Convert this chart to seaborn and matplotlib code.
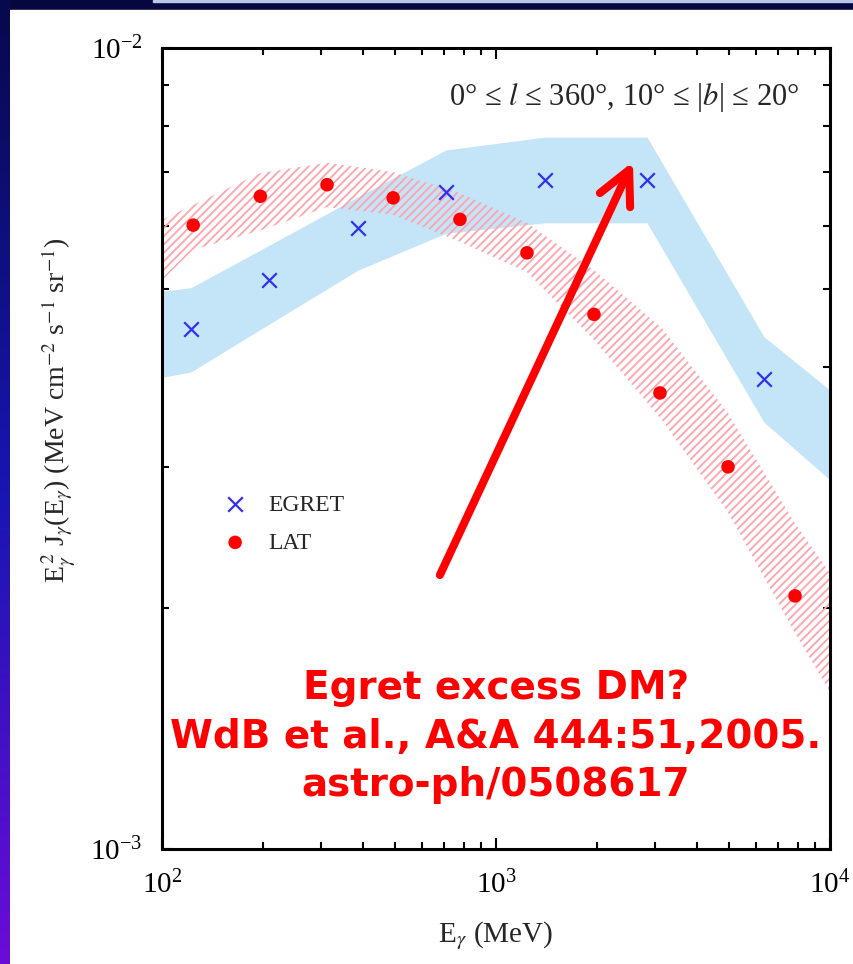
import numpy as np
import seaborn as sns
import matplotlib.pyplot as plt
from matplotlib.patches import Rectangle
from matplotlib.colors import LinearSegmentedColormap
from matplotlib.ticker import NullFormatter

# EGRET points (E in MeV, E^2 J in MeV cm^-2 s^-1 sr^-1)
egret_e = [122, 209, 386, 708, 1402, 2832, 6344]
egret_flux = [4.46e-3, 5.13e-3, 5.96e-3, 6.61e-3, 6.84e-3, 6.84e-3, 3.86e-3]

# LAT points
lat_e = [124, 197, 312, 492, 780, 1238, 1965, 3097, 4951, 7858]
lat_flux = [6.01e-3, 6.53e-3, 6.75e-3, 6.50e-3, 6.11e-3, 5.55e-3, 4.65e-3, 3.71e-3, 3.00e-3, 2.07e-3]

# EGRET systematic band
egret_band_e = [100, 122, 209, 386, 708, 1402, 2832, 6344, 10000]
egret_band_hi = [4.97e-3, 5.02e-3, 5.67e-3, 6.52e-3, 7.46e-3, 7.74e-3, 7.74e-3, 4.36e-3, 3.74e-3]
egret_band_lo = [3.88e-3, 3.94e-3, 4.52e-3, 5.28e-3, 5.87e-3, 6.05e-3, 6.05e-3, 3.41e-3, 2.89e-3]

# LAT band (hatched)
lat_band_e = [100, 124, 197, 312, 492, 780, 1238, 1965, 3141, 4951, 7858, 10000]
lat_band_hi = [6.10e-3, 6.37e-3, 6.98e-3, 7.19e-3, 7.00e-3, 6.59e-3, 6.05e-3, 5.28e-3, 4.47e-3, 3.50e-3, 2.55e-3, 2.21e-3]
lat_band_lo = [5.13e-3, 5.60e-3, 5.92e-3, 6.33e-3, 6.19e-3, 5.73e-3, 5.25e-3, 4.32e-3, 3.43e-3, 2.63e-3, 1.86e-3, 1.57e-3]

sns.set_theme(style="ticks")
plt.rcParams["font.family"] = ["Liberation Serif", "DejaVu Serif"]
plt.rcParams["mathtext.fontset"] = "stix"
plt.rcParams["hatch.linewidth"] = 1.3

fig = plt.figure(figsize=(8.54, 9.64), dpi=100)
fig.patch.set_facecolor("#07073f")

# slide background: white panel, gradient stripe on the left, thin line on top
fig.patches.append(Rectangle((10 / 854, 0), 1 - 10 / 854, 954 / 964,
                             transform=fig.transFigure, color="white", zorder=-2))
fig.patches.append(Rectangle((153 / 854, 1 - 2 / 964), 1, 2 / 964,
                             transform=fig.transFigure, color="#b8c8e8", zorder=-2))
bg = fig.add_axes([0, 0, 10 / 854, 1])
stripe = LinearSegmentedColormap.from_list("stripe", ["#08084c", "#1616b0", "#6a0cd8"])
bg.imshow(np.linspace(0, 1, 256)[:, None], aspect="auto", cmap=stripe)
bg.axis("off")

ax = fig.add_axes([162 / 854, 115 / 964, 668 / 854, 801 / 964])

ax.fill_between(egret_band_e, egret_band_lo, egret_band_hi, color="#c4e4f8", lw=0, zorder=1)
ax.fill_between(lat_band_e, lat_band_lo, lat_band_hi, facecolor="none",
                edgecolor="#ffa3ad", hatch="////", lw=0, zorder=2)

sns.scatterplot(x=egret_e, y=egret_flux, marker="x", color="#3030ee", s=110,
                linewidth=1.6, label="EGRET", ax=ax, zorder=4)
sns.scatterplot(x=lat_e, y=lat_flux, marker="o", color="#ff0000", s=95,
                edgecolor="none", label="LAT", ax=ax, zorder=4)

ax.set_xscale("log")
ax.set_yscale("log")
ax.set_xlim(1e2, 1e4)
ax.set_ylim(1e-3, 1e-2)
ax.xaxis.set_minor_formatter(NullFormatter())
ax.yaxis.set_minor_formatter(NullFormatter())

for s in ax.spines.values():
    s.set_linewidth(2.2)
    s.set_color("black")
ax.tick_params(which="both", direction="in", top=True, right=True, width=1.5, colors="black")
ax.tick_params(which="major", length=8, labelsize=21)
ax.tick_params(which="minor", length=5)
ax.tick_params(axis="y", pad=14)
ax.tick_params(axis="x", pad=16)

ax.set_xlabel(r"E$_\gamma$ (MeV)", fontsize=21, labelpad=14)
ax.set_ylabel(r"E$_\gamma^{\,2}$ J$_\gamma$(E$_\gamma$) (MeV cm$^{-2}$ s$^{-1}$ sr$^{-1}$)", fontsize=20)
ax.yaxis.set_label_coords(-0.125, 0.548)

ax.text(0.955, 0.9376, r"0° ≤ $l$ ≤ 360°, 10° ≤ |$b$| ≤ 20°", transform=ax.transAxes,
        ha="right", va="center", fontsize=22)

ax.legend(loc="upper left", bbox_to_anchor=(0.06, 0.455), frameon=False, fontsize=17,
          handletextpad=0.4, labelspacing=0.7, borderaxespad=0)

ax.annotate("", xy=(0.705, 0.858), xytext=(0.416, 0.342), xycoords="axes fraction",
            arrowprops=dict(arrowstyle="->, head_length=1.2, head_width=0.6",
                            mutation_scale=20, lw=5.8, color="red",
                            shrinkA=0, shrinkB=0), zorder=5)

ax.text(0.5, 0.14, "Egret excess DM?\nWdB et al., A&A 444:51,2005.\nastro-ph/0508617",
        transform=ax.transAxes, ha="center", va="center", color="red", fontsize=28,
        fontweight="bold", family="DejaVu Sans", linespacing=1.35, zorder=6)

fig.savefig("out.png", dpi=100, facecolor=fig.get_facecolor())
